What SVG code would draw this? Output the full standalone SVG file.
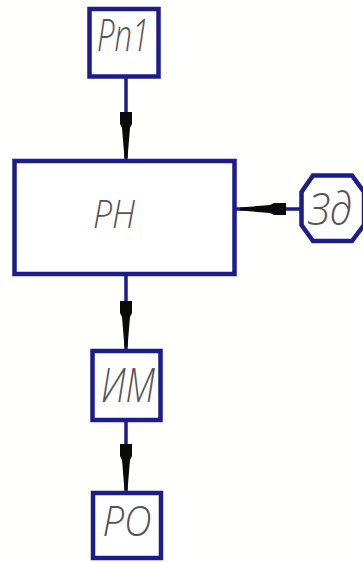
<svg xmlns="http://www.w3.org/2000/svg" width="363" height="562" viewBox="0 0 363 562">
  <style>
    .blk { fill: #ffffff; stroke: #1c1c8a; stroke-width: 4.5; }
    .wire { stroke: #1c1c8a; stroke-width: 3.5; fill: none; }
    .lbl { font-family: "Open Sans", "Liberation Sans", sans-serif; font-weight: 300; font-style: italic; fill: #555555; text-anchor: middle; }
  </style>
  <defs>
    <!-- arrowhead pointing down, tip at the origin -->
    <path id="arr" d="M-1.5,0 L-4,-30 L-6,-34 L-6,-46 L6,-46 L6,-34 L4,-30 L1.5,0 Z" fill="#0a0a0a"/>
  </defs>
  <rect width="363" height="562" fill="#fffffe"/>

  <g id="connectors">
    <line class="wire" x1="126" y1="77" x2="126" y2="159"/>
    <line class="wire" x1="236" y1="209" x2="301" y2="209"/>
    <line class="wire" x1="126" y1="274" x2="126" y2="351"/>
    <line class="wire" x1="126" y1="420" x2="126" y2="493"/>
    <use href="#arr" transform="translate(126,158)"/>
    <use href="#arr" transform="translate(240,209) rotate(90)"/>
    <use href="#arr" transform="translate(126,347)"/>
    <use href="#arr" transform="translate(126,490)"/>
  </g>

  <g id="node-rp1">
    <rect class="blk" x="89.5" y="9" width="69" height="67.5"/>
    <text class="lbl" x="123" y="51" font-size="44" textLength="52" lengthAdjust="spacingAndGlyphs">Рп1</text>
  </g>

  <g id="node-rn">
    <rect class="blk" x="14.5" y="161" width="220" height="113"/>
    <text class="lbl" x="114" y="228" font-size="38" textLength="42" lengthAdjust="spacingAndGlyphs">РН</text>
  </g>

  <g id="node-zd">
    <polygon class="blk" stroke-width="3.5" points="313,175.5 352,175.5 364,192 364,225 352,241 313,241 301.5,225 301.5,192"/>
    <text class="lbl" x="330" y="225" font-size="45" textLength="44" lengthAdjust="spacingAndGlyphs">Зд</text>
  </g>

  <g id="node-im">
    <rect class="blk" x="92.5" y="351" width="68" height="69"/>
    <text class="lbl" x="128" y="402" font-size="48" textLength="54" lengthAdjust="spacingAndGlyphs">ИМ</text>
  </g>

  <g id="node-ro">
    <rect class="blk" x="93" y="493" width="68" height="65"/>
    <text class="lbl" x="127" y="536" font-size="42" textLength="49" lengthAdjust="spacingAndGlyphs">РО</text>
  </g>
</svg>
